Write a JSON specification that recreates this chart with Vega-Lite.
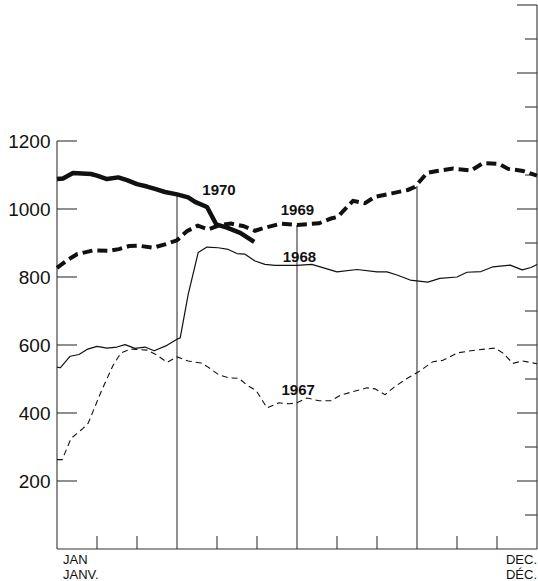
{
  "$schema": "https://vega.github.io/schema/vega-lite/v6.json",
  "width": 480,
  "height": 544,
  "autosize": {"type": "none"},
  "padding": {"left": 57, "top": 5, "right": 1, "bottom": 32},
  "background": "white",
  "config": {"view": {"stroke": null}, "font": "Liberation Sans"},
  "datasets": {
    "rules": [
      {"a": 0, "a2": 0, "b": 0, "b2": 1200},
      {"a": 12, "a2": 12, "b": 0, "b2": 1600},
      {"a": 0, "a2": 12, "b": 0, "b2": 0},
      {"a": 0, "a2": 0.5, "b": 200, "b2": 200},
      {"a": 0, "a2": 0.5, "b": 400, "b2": 400},
      {"a": 0, "a2": 0.5, "b": 600, "b2": 600},
      {"a": 0, "a2": 0.5, "b": 800, "b2": 800},
      {"a": 0, "a2": 0.5, "b": 1000, "b2": 1000},
      {"a": 0, "a2": 0.5, "b": 1200, "b2": 1200},
      {"a": 11.5, "a2": 12, "b": 200, "b2": 200},
      {"a": 11.5, "a2": 12, "b": 400, "b2": 400},
      {"a": 11.5, "a2": 12, "b": 600, "b2": 600},
      {"a": 11.5, "a2": 12, "b": 800, "b2": 800},
      {"a": 11.5, "a2": 12, "b": 1000, "b2": 1000},
      {"a": 11.5, "a2": 12, "b": 1200, "b2": 1200},
      {"a": 11.5, "a2": 12, "b": 1400, "b2": 1400},
      {"a": 11.5, "a2": 12, "b": 1600, "b2": 1600},
      {"a": 11.7, "a2": 12, "b": 100, "b2": 100},
      {"a": 11.7, "a2": 12, "b": 300, "b2": 300},
      {"a": 11.7, "a2": 12, "b": 500, "b2": 500},
      {"a": 11.7, "a2": 12, "b": 700, "b2": 700},
      {"a": 11.7, "a2": 12, "b": 900, "b2": 900},
      {"a": 11.7, "a2": 12, "b": 1100, "b2": 1100},
      {"a": 11.7, "a2": 12, "b": 1300, "b2": 1300},
      {"a": 11.7, "a2": 12, "b": 1500, "b2": 1500},
      {"a": 1, "a2": 1, "b": 0, "b2": 38},
      {"a": 2, "a2": 2, "b": 0, "b2": 38},
      {"a": 4, "a2": 4, "b": 0, "b2": 38},
      {"a": 5, "a2": 5, "b": 0, "b2": 38},
      {"a": 7, "a2": 7, "b": 0, "b2": 38},
      {"a": 8, "a2": 8, "b": 0, "b2": 38},
      {"a": 10, "a2": 10, "b": 0, "b2": 38},
      {"a": 11, "a2": 11, "b": 0, "b2": 38},
      {"a": 3, "a2": 3, "b": 0, "b2": 1045},
      {"a": 6, "a2": 6, "b": 0, "b2": 953},
      {"a": 9, "a2": 9, "b": 0, "b2": 1068}
    ],
    "series": [
      {"s": "1970", "m": 0, "v": 1088},
      {"s": "1970", "m": 0.15, "v": 1090},
      {"s": "1970", "m": 0.4, "v": 1106},
      {"s": "1970", "m": 0.85, "v": 1103},
      {"s": "1970", "m": 1.0, "v": 1098},
      {"s": "1970", "m": 1.25, "v": 1088},
      {"s": "1970", "m": 1.53, "v": 1093},
      {"s": "1970", "m": 1.75, "v": 1085},
      {"s": "1970", "m": 2.0, "v": 1073},
      {"s": "1970", "m": 2.25, "v": 1066},
      {"s": "1970", "m": 2.45, "v": 1059},
      {"s": "1970", "m": 2.7, "v": 1050},
      {"s": "1970", "m": 3.0, "v": 1043},
      {"s": "1970", "m": 3.28, "v": 1034},
      {"s": "1970", "m": 3.45, "v": 1021},
      {"s": "1970", "m": 3.75, "v": 1006},
      {"s": "1970", "m": 3.98, "v": 955},
      {"s": "1970", "m": 4.25, "v": 945},
      {"s": "1970", "m": 4.58, "v": 930},
      {"s": "1970", "m": 4.93, "v": 903},

      {"s": "1969", "m": 0, "v": 827},
      {"s": "1969", "m": 0.25, "v": 849},
      {"s": "1969", "m": 0.5, "v": 867},
      {"s": "1969", "m": 0.9, "v": 878},
      {"s": "1969", "m": 1.3, "v": 877},
      {"s": "1969", "m": 1.55, "v": 882},
      {"s": "1969", "m": 1.8, "v": 891},
      {"s": "1969", "m": 2.05, "v": 892},
      {"s": "1969", "m": 2.4, "v": 886},
      {"s": "1969", "m": 2.7, "v": 896},
      {"s": "1969", "m": 3.0, "v": 908},
      {"s": "1969", "m": 3.25, "v": 935},
      {"s": "1969", "m": 3.52, "v": 951},
      {"s": "1969", "m": 3.78, "v": 940},
      {"s": "1969", "m": 4.05, "v": 952},
      {"s": "1969", "m": 4.35, "v": 957},
      {"s": "1969", "m": 4.65, "v": 950},
      {"s": "1969", "m": 4.95, "v": 936},
      {"s": "1969", "m": 5.2, "v": 945},
      {"s": "1969", "m": 5.6, "v": 957},
      {"s": "1969", "m": 6.0, "v": 953},
      {"s": "1969", "m": 6.55, "v": 958},
      {"s": "1969", "m": 6.85, "v": 972},
      {"s": "1969", "m": 7.02, "v": 977},
      {"s": "1969", "m": 7.4, "v": 1024},
      {"s": "1969", "m": 7.7, "v": 1017},
      {"s": "1969", "m": 7.95, "v": 1036},
      {"s": "1969", "m": 8.37, "v": 1046},
      {"s": "1969", "m": 8.77, "v": 1056},
      {"s": "1969", "m": 8.95, "v": 1065},
      {"s": "1969", "m": 9.25, "v": 1106},
      {"s": "1969", "m": 9.5, "v": 1112},
      {"s": "1969", "m": 9.9, "v": 1119},
      {"s": "1969", "m": 10.35, "v": 1113},
      {"s": "1969", "m": 10.65, "v": 1135},
      {"s": "1969", "m": 11.05, "v": 1133},
      {"s": "1969", "m": 11.28, "v": 1118},
      {"s": "1969", "m": 11.65, "v": 1112},
      {"s": "1969", "m": 12, "v": 1098},

      {"s": "1968", "m": 0, "v": 535},
      {"s": "1968", "m": 0.08, "v": 533},
      {"s": "1968", "m": 0.33, "v": 567},
      {"s": "1968", "m": 0.55, "v": 572},
      {"s": "1968", "m": 0.75, "v": 587},
      {"s": "1968", "m": 1.0, "v": 596},
      {"s": "1968", "m": 1.25, "v": 591},
      {"s": "1968", "m": 1.5, "v": 594},
      {"s": "1968", "m": 1.7, "v": 601},
      {"s": "1968", "m": 1.95, "v": 590},
      {"s": "1968", "m": 2.2, "v": 594},
      {"s": "1968", "m": 2.43, "v": 583},
      {"s": "1968", "m": 2.75, "v": 599},
      {"s": "1968", "m": 3.0, "v": 617},
      {"s": "1968", "m": 3.08, "v": 621},
      {"s": "1968", "m": 3.28, "v": 749},
      {"s": "1968", "m": 3.53, "v": 872},
      {"s": "1968", "m": 3.75, "v": 888},
      {"s": "1968", "m": 4.03, "v": 886},
      {"s": "1968", "m": 4.28, "v": 881},
      {"s": "1968", "m": 4.5, "v": 869},
      {"s": "1968", "m": 4.7, "v": 867},
      {"s": "1968", "m": 4.95, "v": 847},
      {"s": "1968", "m": 5.2, "v": 837},
      {"s": "1968", "m": 5.45, "v": 834},
      {"s": "1968", "m": 6.0, "v": 834},
      {"s": "1968", "m": 6.37, "v": 837},
      {"s": "1968", "m": 7.0, "v": 815},
      {"s": "1968", "m": 7.5, "v": 822},
      {"s": "1968", "m": 8.0, "v": 815},
      {"s": "1968", "m": 8.25, "v": 815},
      {"s": "1968", "m": 8.5, "v": 806},
      {"s": "1968", "m": 8.83, "v": 791},
      {"s": "1968", "m": 9.27, "v": 785},
      {"s": "1968", "m": 9.57, "v": 796},
      {"s": "1968", "m": 10.0, "v": 800},
      {"s": "1968", "m": 10.25, "v": 814},
      {"s": "1968", "m": 10.6, "v": 816},
      {"s": "1968", "m": 10.9, "v": 830},
      {"s": "1968", "m": 11.33, "v": 835},
      {"s": "1968", "m": 11.63, "v": 821},
      {"s": "1968", "m": 11.85, "v": 828},
      {"s": "1968", "m": 12, "v": 837},

      {"s": "1967", "m": 0, "v": 263},
      {"s": "1967", "m": 0.13, "v": 263},
      {"s": "1967", "m": 0.35, "v": 325},
      {"s": "1967", "m": 0.65, "v": 355},
      {"s": "1967", "m": 0.78, "v": 370},
      {"s": "1967", "m": 1.1, "v": 462},
      {"s": "1967", "m": 1.4, "v": 540},
      {"s": "1967", "m": 1.6, "v": 577},
      {"s": "1967", "m": 1.85, "v": 588},
      {"s": "1967", "m": 2.25, "v": 585},
      {"s": "1967", "m": 2.5, "v": 570},
      {"s": "1967", "m": 2.75, "v": 549},
      {"s": "1967", "m": 3.0, "v": 565},
      {"s": "1967", "m": 3.28, "v": 553},
      {"s": "1967", "m": 3.6, "v": 547},
      {"s": "1967", "m": 3.75, "v": 537},
      {"s": "1967", "m": 4.05, "v": 512},
      {"s": "1967", "m": 4.3, "v": 503},
      {"s": "1967", "m": 4.55, "v": 502},
      {"s": "1967", "m": 4.75, "v": 482},
      {"s": "1967", "m": 4.98, "v": 466},
      {"s": "1967", "m": 5.25, "v": 415},
      {"s": "1967", "m": 5.55, "v": 430},
      {"s": "1967", "m": 5.8, "v": 427},
      {"s": "1967", "m": 6.0, "v": 430},
      {"s": "1967", "m": 6.25, "v": 444},
      {"s": "1967", "m": 6.55, "v": 436},
      {"s": "1967", "m": 6.85, "v": 436},
      {"s": "1967", "m": 7.1, "v": 453},
      {"s": "1967", "m": 7.75, "v": 474},
      {"s": "1967", "m": 7.95, "v": 471},
      {"s": "1967", "m": 8.2, "v": 454},
      {"s": "1967", "m": 8.45, "v": 478},
      {"s": "1967", "m": 8.77, "v": 503},
      {"s": "1967", "m": 9.05, "v": 522},
      {"s": "1967", "m": 9.4, "v": 551},
      {"s": "1967", "m": 9.65, "v": 555},
      {"s": "1967", "m": 10.02, "v": 577},
      {"s": "1967", "m": 10.4, "v": 584},
      {"s": "1967", "m": 10.95, "v": 591},
      {"s": "1967", "m": 11.15, "v": 576},
      {"s": "1967", "m": 11.4, "v": 546},
      {"s": "1967", "m": 11.63, "v": 553},
      {"s": "1967", "m": 12, "v": 545}
    ],
    "labels": [
      {"m": 4.05, "v": 1055, "t": "1970"},
      {"m": 6.01, "v": 997, "t": "1969"},
      {"m": 6.06, "v": 860, "t": "1968"},
      {"m": 6.03, "v": 469, "t": "1967"}
    ],
    "monthsL": [{"m": 0.15, "v": 0, "t": "JAN\nJANV."}],
    "monthsR": [{"m": 12, "v": 0, "t": "DEC.\nDÉC."}]
  },
  "layer": [
    {
      "data": {"name": "rules"},
      "mark": {"type": "rule", "color": "#333", "strokeWidth": 1.1},
      "encoding": {
        "x": {"field": "a", "type": "quantitative", "scale": {"domain": [0, 12], "nice": false, "zero": false}, "axis": null},
        "x2": {"field": "a2"},
        "y": {
          "field": "b", "type": "quantitative",
          "scale": {"domain": [0, 1600], "nice": false},
          "axis": {
            "values": [200, 400, 600, 800, 1000, 1200],
            "format": "d",
            "title": null, "ticks": false, "tickSize": 0, "domain": false, "grid": false,
            "labelPadding": 7, "labelFont": "Liberation Sans", "labelFontSize": 19,
            "labelColor": "#111", "labelBaseline": "middle"
          }
        },
        "y2": {"field": "b2"}
      }
    },
    {
      "data": {"name": "series"},
      "transform": [{"filter": "datum.s === '1967'"}],
      "mark": {"type": "line", "color": "#111", "strokeWidth": 1.1, "strokeDash": [6, 4], "strokeCap": "butt"},
      "encoding": {
        "x": {"field": "m", "type": "quantitative"},
        "y": {"field": "v", "type": "quantitative"}
      }
    },
    {
      "data": {"name": "series"},
      "transform": [{"filter": "datum.s === '1968'"}],
      "mark": {"type": "line", "color": "#111", "strokeWidth": 1.2, "strokeJoin": "round"},
      "encoding": {
        "x": {"field": "m", "type": "quantitative"},
        "y": {"field": "v", "type": "quantitative"}
      }
    },
    {
      "data": {"name": "series"},
      "transform": [{"filter": "datum.s === '1969'"}],
      "mark": {"type": "line", "color": "#111", "strokeWidth": 4, "strokeDash": [10, 5], "strokeCap": "butt"},
      "encoding": {
        "x": {"field": "m", "type": "quantitative"},
        "y": {"field": "v", "type": "quantitative"}
      }
    },
    {
      "data": {"name": "series"},
      "transform": [{"filter": "datum.s === '1970'"}],
      "mark": {"type": "line", "color": "#111", "strokeWidth": 4.5, "strokeJoin": "round"},
      "encoding": {
        "x": {"field": "m", "type": "quantitative"},
        "y": {"field": "v", "type": "quantitative"}
      }
    },
    {
      "data": {"name": "labels"},
      "mark": {"type": "text", "font": "Liberation Sans", "fontWeight": "bold", "fontSize": 15, "align": "center", "baseline": "middle", "color": "#111"},
      "encoding": {
        "x": {"field": "m", "type": "quantitative"},
        "y": {"field": "v", "type": "quantitative"},
        "text": {"field": "t"}
      }
    },
    {
      "data": {"name": "monthsL"},
      "mark": {"type": "text", "font": "Liberation Sans", "fontSize": 13, "align": "left", "baseline": "top", "dy": 5, "lineBreak": "\n", "lineHeight": 15, "color": "#111"},
      "encoding": {
        "x": {"field": "m", "type": "quantitative"},
        "y": {"field": "v", "type": "quantitative"},
        "text": {"field": "t"}
      }
    },
    {
      "data": {"name": "monthsR"},
      "mark": {"type": "text", "font": "Liberation Sans", "fontSize": 13, "align": "right", "baseline": "top", "dy": 5, "lineBreak": "\n", "lineHeight": 15, "color": "#111"},
      "encoding": {
        "x": {"field": "m", "type": "quantitative"},
        "y": {"field": "v", "type": "quantitative"},
        "text": {"field": "t"}
      }
    }
  ]
}
